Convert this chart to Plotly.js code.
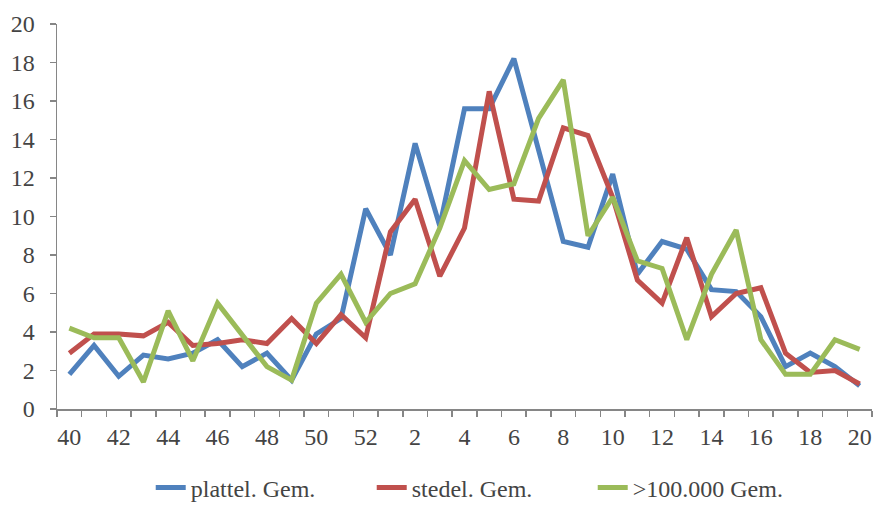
<!DOCTYPE html>
<html>
<head>
<meta charset="utf-8">
<script src="https://cdn.plot.ly/plotly-3.0.1.min.js"></script>
</head>
<body style="margin:0;padding:0;background:#fff;font-family:'Liberation Serif',serif;">
<span style="position:absolute;left:0;top:0;font-family:'Liberation Serif';font-size:24px;">&nbsp;</span>
<div id="chart"></div>
<script>
const weeks = ["40","41","42","43","44","45","46","47","48","49","50","51","52",
  "1","2","3","4","5","6","7","8","9","10","11","12","13","14","15","16","17","18","19","20"];
const plattel = [1.8,3.3,1.7,2.8,2.6,2.9,3.6,2.2,2.9,1.5,3.9,4.7,10.4,
  8.0,13.8,9.5,15.6,15.6,18.2,13.5,8.7,8.4,12.2,7.0,8.7,8.3,6.2,6.1,4.8,2.2,2.9,2.2,1.2];
const stedel = [2.9,3.9,3.9,3.8,4.5,3.3,3.4,3.6,3.4,4.7,3.4,4.9,3.7,
  9.2,10.9,6.9,9.4,16.5,10.9,10.8,14.6,14.2,11.0,6.7,5.5,8.9,4.8,6.0,6.3,2.9,1.9,2.0,1.3];
const groot = [4.2,3.7,3.7,1.4,5.1,2.5,5.5,3.8,2.2,1.5,5.5,7.0,4.5,
  6.0,6.5,9.4,12.9,11.4,11.7,15.1,17.1,9.0,11.0,7.7,7.3,3.6,7.0,9.3,3.6,1.8,1.8,3.6,3.1];
const seriesNames = ["plattel. Gem.","stedel. Gem.",">100.000 Gem."];
const tickLabels = weeks.map((w,i) => i % 2 === 0 ? w : "");

const colors = ["#4F81BD","#C0504D","#9BBB59"];
const vals = [plattel, stedel, groot];
const traces = vals.map((v,i) => ({
  x: weeks, y: v, type: "scatter", mode: "lines", name: seriesNames[i],
  line: {color: colors[i], width: 5}
}));
const FAM = "Liberation Serif";
const layout = {
  width: 875, height: 514,
  margin: {l: 57, r: 3, t: 24, b: 92},
  paper_bgcolor: "#fff", plot_bgcolor: "#fff",
  font: {family: FAM, size: 24},
  showlegend: true,
  legend: {orientation: "h", x: 0.115, xanchor: "left", y: -0.205, yanchor: "middle",
    font: {family: FAM, size: 24}, traceorder: "normal", entrywidth: 176, entrywidthmode: "pixels"},
  xaxis: {
    type: "category", tickmode: "array", tickvals: weeks, ticktext: tickLabels,
    tickson: "boundaries", ticks: "outside", ticklen: 6, tickcolor: "#868686", tickwidth: 1.5,
    showline: true, linecolor: "#868686", linewidth: 1.5, showgrid: false, zeroline: false,
    range: [-0.5, weeks.length - 0.5], tickangle: 0, ticklabelstandoff: 6, automargin: false,
    tickfont: {family: FAM, size: 24}
  },
  yaxis: {
    range: [0, 20], dtick: 2, tick0: 0, ticks: "outside", ticklen: 6, tickcolor: "#868686", tickwidth: 1.5,
    showline: true, linecolor: "#868686", linewidth: 1.5, showgrid: false, zeroline: false,
    ticklabelstandoff: 10, automargin: false,
    tickfont: {family: FAM, size: 24}
  }
};
Plotly.newPlot("chart", traces, layout, {staticPlot: true});
</script>
</body>
</html>
